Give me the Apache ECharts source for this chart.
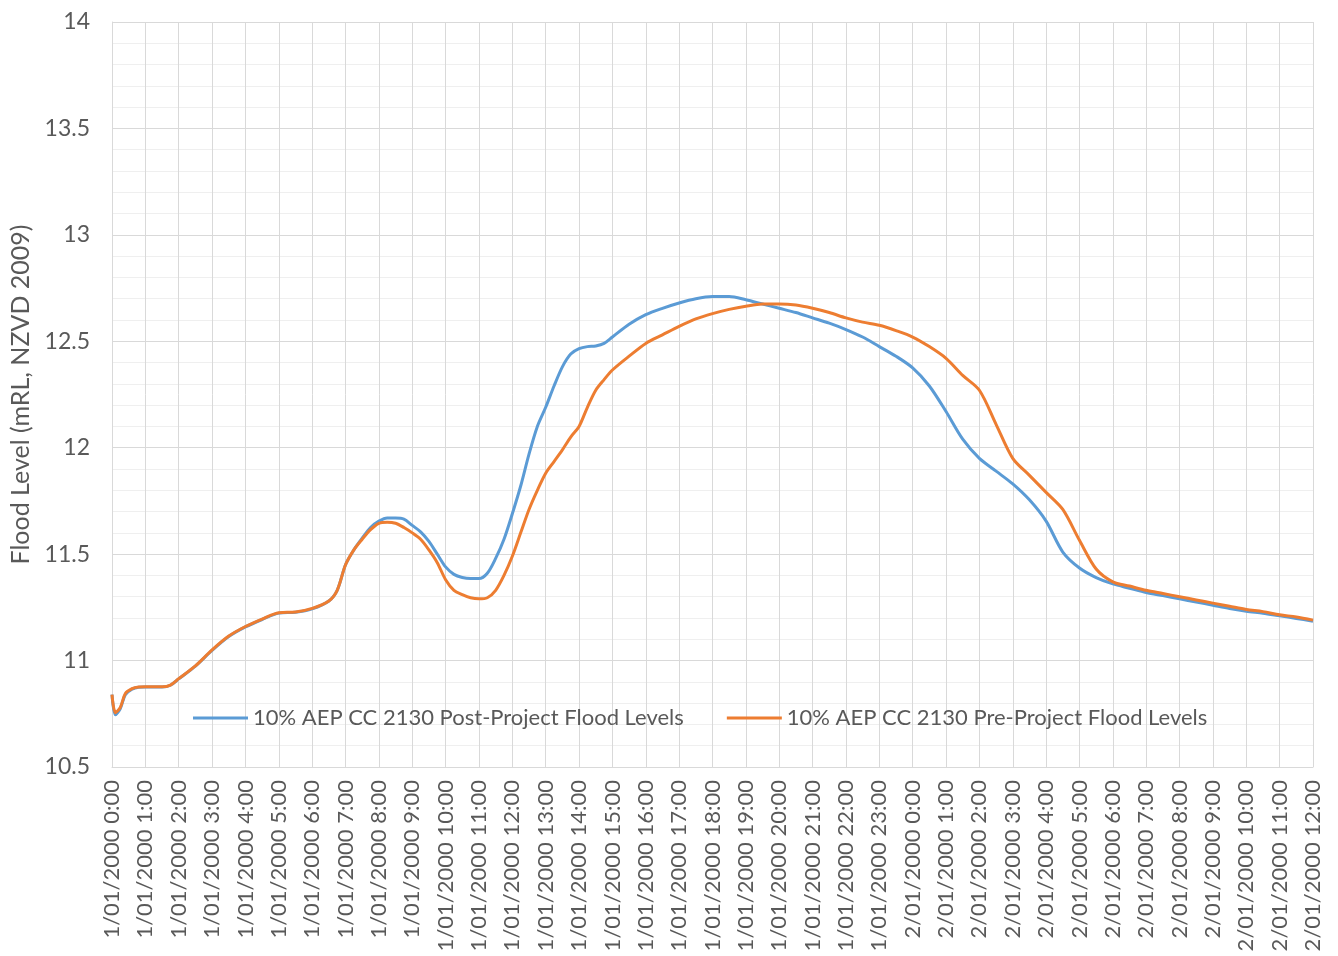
<!DOCTYPE html>
<html>
<head>
<meta charset="utf-8">
<script src="https://cdn.jsdelivr.net/npm/echarts@6/dist/echarts.min.js"></script>
<style>
html,body{margin:0;padding:0;background:#fff;}
#chart{width:1338px;height:956px;}
</style>
</head>
<body>
<div id="chart"></div>
<script>
var tickLabels = [
  "1/01/2000 0:00","1/01/2000 1:00","1/01/2000 2:00","1/01/2000 3:00","1/01/2000 4:00","1/01/2000 5:00",
  "1/01/2000 6:00","1/01/2000 7:00","1/01/2000 8:00","1/01/2000 9:00","1/01/2000 10:00","1/01/2000 11:00",
  "1/01/2000 12:00","1/01/2000 13:00","1/01/2000 14:00","1/01/2000 15:00","1/01/2000 16:00","1/01/2000 17:00",
  "1/01/2000 18:00","1/01/2000 19:00","1/01/2000 20:00","1/01/2000 21:00","1/01/2000 22:00","1/01/2000 23:00",
  "2/01/2000 0:00","2/01/2000 1:00","2/01/2000 2:00","2/01/2000 3:00","2/01/2000 4:00","2/01/2000 5:00",
  "2/01/2000 6:00","2/01/2000 7:00","2/01/2000 8:00","2/01/2000 9:00","2/01/2000 10:00","2/01/2000 11:00",
  "2/01/2000 12:00"
];

var hours = [
  0, 0.1, 0.25, 0.4, 0.6, 0.8, 1.0, 1.5, 1.75, 2.0, 2.5, 3.0, 3.5, 4.0, 4.5, 5.0, 5.5, 6.0, 6.5, 6.75,
  7.0, 7.25, 7.5, 7.75, 8.0, 8.25, 8.5, 8.75, 9.0, 9.25, 9.5, 9.75, 10.0, 10.25, 10.5, 10.75, 11.0, 11.25,
  11.5, 11.75, 12.0, 12.25, 12.5, 12.75, 13.0, 13.25, 13.5, 13.75, 14.0, 14.25, 14.5, 14.75, 15.0,
  15.5, 16.0, 16.5, 17.0, 17.5, 18.0, 18.5, 19.0, 19.5, 20.0, 20.5, 21.0, 21.5, 22.0, 22.5, 23.0, 23.5,
  24.0, 24.5, 25.0, 25.5, 26.0, 26.5, 27.0, 27.5, 28.0, 28.5, 29.0, 29.5, 30.0, 30.5, 31.0, 31.5, 32.0,
  32.5, 33.0, 33.5, 34.0, 34.5, 35.0, 35.5, 36.0
];

var postLevels = [
  10.84, 10.745, 10.775, 10.84, 10.866, 10.875, 10.876, 10.876, 10.884, 10.914, 10.974, 11.048, 11.113, 11.158, 11.193, 11.223, 11.227, 11.243, 11.28, 11.33,
  11.45, 11.52, 11.575, 11.625, 11.655, 11.67, 11.67, 11.665, 11.635, 11.605, 11.56, 11.5, 11.44, 11.405, 11.39, 11.385, 11.385, 11.41,
  11.48, 11.57, 11.69, 11.82, 11.97, 12.1, 12.19, 12.29, 12.38, 12.44, 12.465, 12.475, 12.478, 12.49, 12.52,
  12.58, 12.625, 12.655, 12.68, 12.7, 12.71, 12.71, 12.695, 12.675, 12.655, 12.635, 12.61, 12.585, 12.555, 12.52, 12.475, 12.43,
  12.375, 12.29, 12.17, 12.04, 11.95, 11.89, 11.83, 11.755, 11.655, 11.51, 11.435, 11.39, 11.36, 11.34, 11.32, 11.305, 11.29,
  11.275, 11.26, 11.245, 11.232, 11.222, 11.21, 11.198, 11.185
];

var preLevels = [
  10.84, 10.755, 10.78, 10.845, 10.868, 10.876, 10.877, 10.877, 10.885, 10.915, 10.975, 11.05, 11.115, 11.16, 11.195, 11.225, 11.228, 11.245, 11.28, 11.33,
  11.45, 11.52, 11.57, 11.615, 11.645, 11.65, 11.645, 11.625, 11.6, 11.57, 11.52, 11.46, 11.38, 11.33, 11.31, 11.295, 11.29, 11.295,
  11.33, 11.4, 11.49, 11.6, 11.71, 11.8, 11.88, 11.935, 11.99, 12.05, 12.1, 12.19, 12.27, 12.32, 12.365,
  12.43, 12.49, 12.53, 12.57, 12.605, 12.63, 12.65, 12.665, 12.675, 12.675, 12.67, 12.655, 12.635, 12.61, 12.59, 12.575, 12.55,
  12.52, 12.475, 12.42, 12.34, 12.27, 12.11, 11.95, 11.87, 11.79, 11.71, 11.565, 11.43, 11.37, 11.35, 11.33, 11.315, 11.3,
  11.285, 11.27, 11.255, 11.24, 11.23, 11.215, 11.205, 11.19
];

var seriesNames = [
  "10% AEP CC 2130 Post-Project Flood Levels",
  "10% AEP CC 2130 Pre-Project Flood Levels"
];

function pairs(xs, ys) {
  return xs.map(function (x, i) { return [x, ys[i]]; });
}

var FONT = "Lato, 'Open Sans', sans-serif";
var chart = echarts.init(document.getElementById('chart'), null, {renderer: 'canvas'});
chart.setOption({
  animation: false,
  backgroundColor: '#ffffff',
  grid: {left: 112, right: 25, top: 22, bottom: 189, containLabel: false},
  legend: {
    data: seriesNames,
    left: 188,
    top: 702,
    icon: 'rect',
    itemWidth: 55,
    itemHeight: 3,
    itemGap: 43,
    textStyle: {fontFamily: FONT, fontSize: 22, color: '#595959'}
  },
  xAxis: {
    type: 'value',
    min: 0,
    max: 36,
    interval: 1,
    axisLine: {show: true, lineStyle: {color: '#d9d9d9', width: 1}},
    axisTick: {show: false},
    splitLine: {show: true, lineStyle: {color: '#d9d9d9', width: 1}},
    axisLabel: {
      rotate: 90,
      margin: 13,
      fontFamily: FONT,
      fontSize: 22,
      color: '#595959',
      formatter: function (v) { return tickLabels[Math.round(v)] || ''; }
    }
  },
  yAxis: {
    type: 'value',
    min: 10.5,
    max: 14,
    interval: 0.5,
    name: 'Flood Level (mRL, NZVD 2009)',
    nameLocation: 'middle',
    nameGap: 77,
    nameTextStyle: {fontFamily: FONT, fontSize: 25, color: '#595959'},
    axisLine: {show: true, lineStyle: {color: '#d9d9d9', width: 1}},
    axisTick: {show: false},
    axisLabel: {fontFamily: FONT, fontSize: 23, color: '#595959', margin: 22},
    splitLine: {show: true, lineStyle: {color: '#d9d9d9', width: 1}},
    minorTick: {show: false, splitNumber: 5},
    minorSplitLine: {show: true, lineStyle: {color: '#efefef', width: 1}}
  },
  series: [
    {
      name: seriesNames[0],
      type: 'line',
      data: pairs(hours, postLevels),
      showSymbol: false,
      smooth: 0.3,
      lineStyle: {color: '#5B9BD5', width: 3},
      itemStyle: {color: '#5B9BD5'}
    },
    {
      name: seriesNames[1],
      type: 'line',
      data: pairs(hours, preLevels),
      showSymbol: false,
      smooth: 0.3,
      lineStyle: {color: '#ED7D31', width: 3},
      itemStyle: {color: '#ED7D31'}
    }
  ]
});
</script>
</body>
</html>
